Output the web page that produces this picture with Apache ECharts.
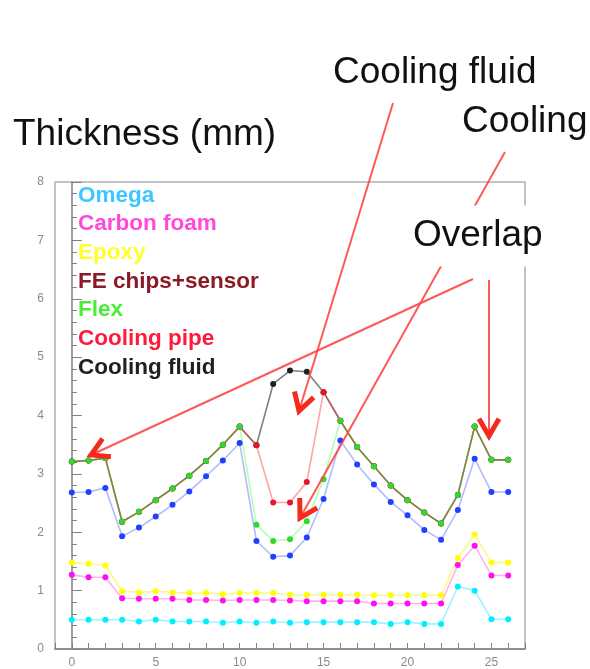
<!DOCTYPE html>
<html><head><meta charset="utf-8">
<script src="https://cdn.jsdelivr.net/npm/echarts@6/dist/echarts.min.js"></script>
<style>html,body{margin:0;padding:0;background:#fff;}#c{width:590px;height:669px;}</style>
</head><body><div id="c"></div>
<script>
// Channel positions (x) and cumulative thickness values (mm)
const positions = [0,1,2,3,4,5,6,7,8,9,10,11,12,13,14,15,16,17,18,19,20,21,22,23,24,25,26];
const omega      = [0.50,0.50,0.50,0.50,0.47,0.50,0.47,0.47,0.47,0.45,0.47,0.45,0.47,0.45,0.46,0.46,0.46,0.46,0.46,0.43,0.46,0.43,0.43,1.07,1.00,0.51,0.51];
const carbonFoam = [1.27,1.23,1.23,0.87,0.86,0.86,0.86,0.84,0.84,0.83,0.84,0.84,0.84,0.83,0.82,0.82,0.82,0.82,0.78,0.78,0.78,0.78,0.78,1.44,1.77,1.26,1.26];
const epoxy      = [1.48,1.46,1.43,0.99,0.97,0.99,0.97,0.96,0.96,0.94,0.96,0.96,0.96,0.93,0.93,0.93,0.93,0.93,0.92,0.92,0.92,0.92,0.92,1.56,1.96,1.48,1.48];
const feChips    = [2.68,2.69,2.76,1.93,2.08,2.27,2.47,2.70,2.96,3.23,3.53,1.85,1.58,1.60,1.91,2.57,3.57,3.16,2.82,2.52,2.29,2.04,1.87,2.38,3.26,2.69,2.69];
const flex       = [3.21,3.23,3.27,2.18,2.35,2.55,2.75,2.97,3.22,3.50,3.81,2.13,1.85,1.88,2.19,2.91,3.91,3.46,3.13,2.80,2.55,2.34,2.15,2.64,3.81,3.24,3.24];
const coolingPipe  = [3.21,3.23,3.27,2.18,2.35,2.55,2.75,2.97,3.22,3.50,3.81,3.49,2.51,2.51,2.86,4.40,3.91,3.46,3.13,2.80,2.55,2.34,2.15,2.64,3.81,3.24,3.24];
const coolingFluid = [3.21,3.23,3.27,2.18,2.35,2.55,2.75,2.97,3.22,3.50,3.81,3.49,4.54,4.77,4.75,4.40,3.91,3.46,3.13,2.80,2.55,2.34,2.15,2.64,3.81,3.24,3.24];
const legendNames = ['Omega','Carbon foam','Epoxy','FE chips+sensor','Flex','Cooling pipe','Cooling fluid'];
const legendColors = ['#3cc8ff','#ff48dc','#ffff30','#8a1a24','#48ee38','#ff1a3c','#202020'];
const yTicks = [0,1,2,3,4,5,6,7,8];

function pairs(arr){ return positions.map((x,i)=>[x,arr[i]]); }
function mk(name, arr, color, lineColor, op){
  return {
    name, type:'line', data:pairs(arr), symbol:'circle', symbolSize:6,
    itemStyle:{color:color, opacity:1},
    lineStyle:{color:lineColor, width:1.6, opacity:op},
    emphasis:{disabled:true}, animation:false
  };
}

function arrow(x1,y1,x2,y2){
  const dx=x2-x1, dy=y2-y1, L=Math.hypot(dx,dy);
  const ux=-dx/L, uy=-dy/L, len=20, a=30*Math.PI/180;
  const r=(ang)=>[x2+len*(ux*Math.cos(ang)-uy*Math.sin(ang)), y2+len*(ux*Math.sin(ang)+uy*Math.cos(ang))];
  return [
    {type:'line', z:100, shape:{x1,y1,x2,y2}, style:{stroke:'rgba(255,70,70,0.9)', lineWidth:2}},
    {type:'polyline', z:101, shape:{points:[r(a),[x2,y2],r(-a)]}, style:{stroke:'#f42a1c', lineWidth:5, fill:null, lineJoin:'miter'}}
  ];
}
const font = '37px "Liberation Sans", Arial, Helvetica, sans-serif';
const graphics = [].concat(
  arrow(393,103,299,411),
  arrow(505,152,300,518),
  arrow(473,279,91,455),
  arrow(489,280,489,436),
  [
    {type:'text', z:120, style:{text:'Thickness (mm)', x:13, y:135, font, fill:'#111', verticalAlign:'middle'}},
    {type:'text', z:120, style:{text:'Cooling fluid', x:333, y:73, font, fill:'#111', verticalAlign:'middle'}},
    {type:'text', z:120, style:{text:'Cooling', x:462, y:122, font, fill:'#111', verticalAlign:'middle'}},
    {type:'text', z:120, style:{text:'Overlap', x:401, y:236, font, fill:'#111', verticalAlign:'middle', backgroundColor:'#fff', padding:[12,12,12,12]}}
  ]
);

const chart = echarts.init(document.getElementById('c'));
chart.setOption({
  animation:false,
  backgroundColor:'#fff',
  grid:{left:55, right:65, top:182, bottom:18, show:true, borderColor:'#b0b0b0', borderWidth:1.5, backgroundColor:'transparent'},
  legend:{
    orient:'vertical', left:68, top:176, itemGap:0, itemWidth:0, itemHeight:14, icon:'circle',
    selectedMode:false,
    textStyle:{fontFamily:'"Liberation Sans", Arial, sans-serif', fontWeight:'bold', fontSize:22.5, lineHeight:28.7},
    data: legendNames.map((n,i)=>({name:n, textStyle:{color:legendColors[i]}}))
  },
  xAxis:{
    type:'value', min:-1, max:27, interval:1,
    axisLine:{show:true, onZero:false, lineStyle:{color:'#808080', width:1.5}},
    axisTick:{show:true, inside:true, length:6, lineStyle:{color:'#808080'}},
    axisLabel:{show:true, margin:8, fontSize:12, color:'#8a8a8a', fontFamily:'"Liberation Sans", Arial, sans-serif',
      formatter:(v)=> (v%5===0 ? String(v) : '')},
    splitLine:{show:false}
  },
  yAxis:{
    type:'value', min:yTicks[0], max:yTicks[yTicks.length-1], interval:1,
    axisLine:{show:true, lineStyle:{color:'#808080', width:1.5}},
    axisTick:{show:true, inside:true, length:10, lineStyle:{color:'#808080'}},
    minorTick:{show:true, splitNumber:5, length:5, lineStyle:{color:'#808080'}},
    axisLabel:{show:true, margin:11, fontSize:12, color:'#8a8a8a', fontFamily:'"Liberation Sans", Arial, sans-serif'},
    splitLine:{show:false}
  },
  series:[
    mk('Omega', omega, '#00eeff', '#00e5ff', 0.4),
    mk('Carbon foam', carbonFoam, '#ff10e8', '#ff20e0', 0.35),
    mk('Epoxy', epoxy, '#ffff00', '#f0f000', 0.45),
    mk('FE chips+sensor', feChips, '#1e40ff', '#2040ff', 0.35),
    mk('Cooling fluid', coolingFluid, '#202020', '#000000', 0.5),
    mk('Cooling pipe', coolingPipe, '#e8142e', '#ff1a1a', 0.4),
    mk('Flex', flex, '#30d830', '#00ff00', 0.3)
  ],
  graphic: graphics
});
</script></body></html>
